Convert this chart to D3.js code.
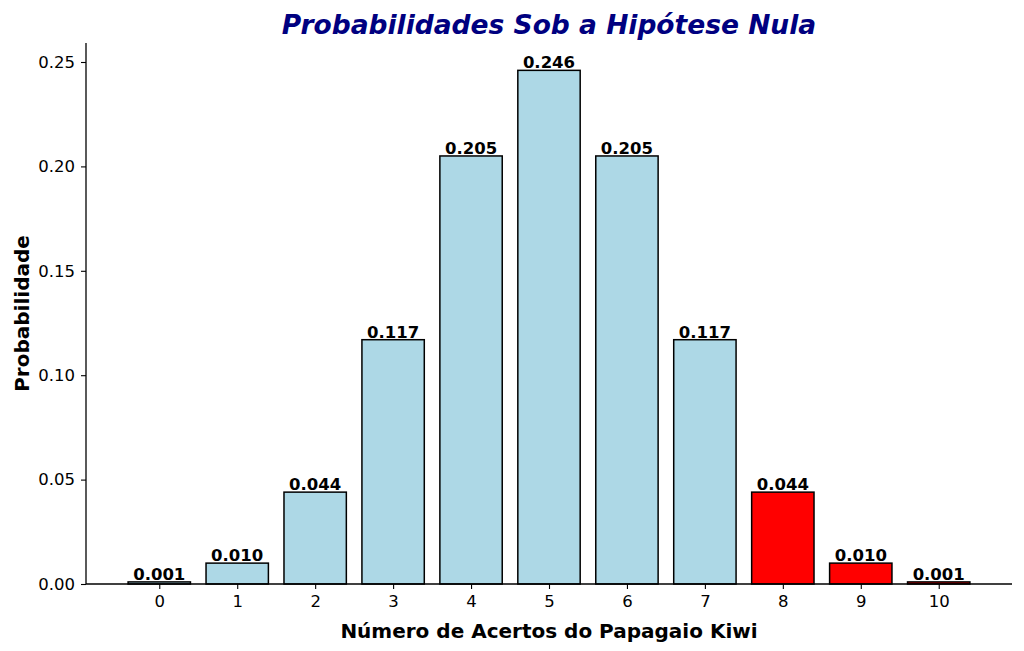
<!DOCTYPE html>
<html><head><meta charset="utf-8">
<script src="https://cdn.jsdelivr.net/npm/d3@7"></script>
<style>body{margin:0;background:#fff}svg{display:block}text{font-family:"DejaVu Sans",sans-serif}</style>
</head><body><svg id="c" width="1024" height="651"></svg>
<script>
const categories = [0,1,2,3,4,5,6,7,8,9,10];
const probabilities = [0.001,0.010,0.044,0.117,0.205,0.246,0.205,0.117,0.044,0.010,0.001];
const rejection = [false,false,false,false,false,false,false,false,true,true,true];
const yTicks = [0.00,0.05,0.10,0.15,0.20,0.25];

const svg = d3.select("#c");
const L=86,R=1012,T=43,B=584;
const x = d3.scaleLinear().domain([-0.94,10.94]).range([L,R]);
const y = d3.scaleLinear().domain([0,0.2591]).range([B,T]);
const bw = x(0.8)-x(0);

svg.selectAll("rect.bar").data(categories).join("rect")
  .attr("x",d=>x(d)-bw/2).attr("width",bw)
  .attr("y",(d,i)=>y(probabilities[i])).attr("height",(d,i)=>B-y(probabilities[i]))
  .attr("fill",(d,i)=>rejection[i]?"#ff0000":"#add8e6")
  .attr("stroke","#000").attr("stroke-width",1.5);

svg.selectAll("text.lab").data(categories).join("text")
  .attr("x",d=>x(d)).attr("y",(d,i)=>y(probabilities[i])-2)
  .attr("text-anchor","middle").attr("font-size",16.5).attr("font-weight","bold")
  .text((d,i)=>probabilities[i].toFixed(3));

const xa = svg.append("g").attr("transform",`translate(0,${B})`)
  .call(d3.axisBottom(x).tickValues(categories).tickFormat(d3.format("d")).tickSizeOuter(0).tickSize(5).tickPadding(6));
const ya = svg.append("g").attr("transform",`translate(${L},0)`)
  .call(d3.axisLeft(y).tickValues(yTicks).tickFormat(d3.format(".2f")).tickSizeOuter(0).tickSize(5).tickPadding(6));
[xa,ya].forEach(a=>{a.attr("font-size",16.5).attr("font-family","DejaVu Sans");
  a.selectAll("text").attr("font-size",16.5).attr("fill","#000");
  a.selectAll("line").attr("stroke","#000").attr("stroke-width",1.1);
  a.select(".domain").attr("stroke","#000").attr("stroke-width",1.3);});
xa.select(".domain").attr("d",`M${L},0H${R}`);
ya.select(".domain").attr("d",`M0,${B}V${T}`);

svg.append("text").attr("x",(L+R)/2).attr("y",34).attr("text-anchor","middle")
  .attr("font-size",26.5).attr("font-weight","bold").attr("font-style","italic").attr("fill","#000080")
  .text("Probabilidades Sob a Hipótese Nula");
svg.append("text").attr("x",(L+R)/2).attr("y",638).attr("text-anchor","middle")
  .attr("font-size",20).attr("font-weight","bold").text("Número de Acertos do Papagaio Kiwi");
svg.append("text").attr("transform",`translate(29,${(T+B)/2}) rotate(-90)`).attr("text-anchor","middle")
  .attr("font-size",20).attr("font-weight","bold").text("Probabilidade");
</script></body></html>
